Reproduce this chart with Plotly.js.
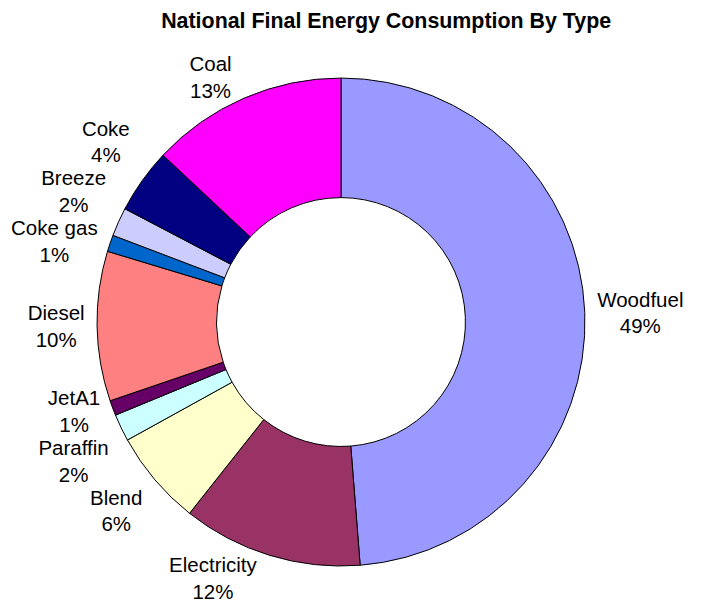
<!DOCTYPE html>
<html>
<head>
<meta charset="utf-8">
<script src="https://cdn.plot.ly/plotly-3.0.1.min.js"></script>
<style>html,body{margin:0;padding:0;background:#fff;}#chart{width:706px;height:606px;}
path.textline{display:none !important;}</style>
</head>
<body>
<div id="chart"></div>
<script>
const categories = ["Woodfuel", "Electricity", "Blend", "Paraffin", "JetA1", "Diesel", "Coke gas", "Breeze", "Coke", "Coal"];
const shares = [48.7, 11.9, 6.3, 1.8, 1.0, 9.9, 1.1, 1.9, 4.3, 13.0];
const colors = ["#9999FF", "#993366", "#FFFFCC", "#CCFFFF", "#660066", "#FF8080", "#0066CC", "#CCCCFF", "#000080", "#FF00FF"];
const chartTitle = "National Final Energy Consumption By Type";

const trace = {
  type: "pie",
  labels: categories,
  values: shares,
  sort: false,
  direction: "clockwise",
  rotation: 0,
  hole: 0.51,
  marker: {colors: colors, line: {color: "#000000", width: 1}},
  textposition: "outside",
  texttemplate: "%{label}<br>%{percent:.0%}",
  textfont: {family: "Liberation Sans, Arial, sans-serif", size: 20.5, color: "#000"},
  outsidetextfont: {family: "Liberation Sans, Arial, sans-serif", size: 20.5, color: "#000"},
  showlegend: false,
  domain: {x: [0.1360, 0.8300], y: [0.0660, 0.8712]},
  automargin: false
};

const layout = {
  width: 706, height: 606,
  margin: {l: 0, r: 0, t: 0, b: 0},
  paper_bgcolor: "#ffffff",
  showlegend: false,
  title: {
    text: "<b>" + chartTitle + "</b>",
    x: 0.547, xanchor: "center", xref: "paper",
    y: 0.966, yanchor: "middle", yref: "container",
    font: {family: "Liberation Sans, Arial, sans-serif", size: 21.4, color: "#000"}
  }
};

Plotly.newPlot("chart", [trace], layout, {displayModeBar: false, staticPlot: true});
</script>
</body>
</html>
